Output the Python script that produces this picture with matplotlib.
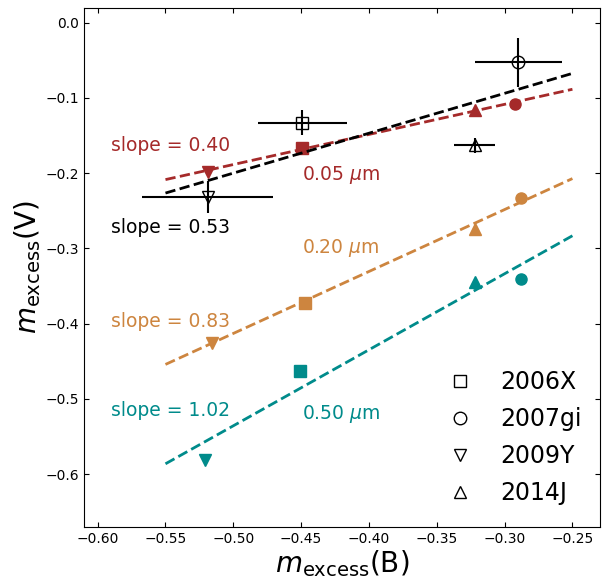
import numpy as np
import matplotlib.pyplot as plt

# supernovae and their markers
names = ['2006X', '2007gi', '2009Y', '2014J']
markers = ['s', 'o', 'v', '^']

# observed colour excess with errors
obs_x = [-0.449, -0.290, -0.519, -0.322]
obs_y = [-0.133, -0.053, -0.232, -0.163]
obs_xerr = [0.033, 0.032, 0.048, 0.015]
obs_yerr = [0.017, 0.033, 0.021, 0.010]
obs_slope, obs_icpt = 0.53, 0.065

# model grain sizes
sizes = ['0.05', '0.20', '0.50']
colors = ['#a52a2a', '#cd853f', '#008b8b']
mod_x = [
    [-0.449, -0.292, -0.519, -0.322],
    [-0.447, -0.288, -0.516, -0.322],
    [-0.451, -0.288, -0.521, -0.322],
]
mod_y = [
    [-0.166, -0.108, -0.198, -0.116],
    [-0.373, -0.233, -0.426, -0.274],
    [-0.463, -0.341, -0.581, -0.345],
]
slopes = [0.40, 0.83, 1.02]
fit_slopes = [0.40, 0.823, 1.01]
intercepts = [0.0114, -0.0015, -0.0307]

slope_text_y = [-0.163, -0.397, -0.516]
size_text_y = [-0.202, -0.300, -0.520]

fig = plt.figure(figsize=(6.05, 5.79), dpi=100)
ax = fig.add_axes([0.139, 0.090, 0.852, 0.897])

xx = np.array([-0.55, -0.25])

for i in range(len(sizes)):
    ax.plot(xx, fit_slopes[i] * xx + intercepts[i], '--', color=colors[i], lw=2)
    for j in range(len(names)):
        ax.plot(mod_x[i][j], mod_y[i][j], markers[j], color=colors[i], ms=8)
    ax.text(-0.5898, slope_text_y[i], f'slope = {slopes[i]:.2f}', color=colors[i],
            fontsize=13.5, va='center')
    ax.text(-0.449, size_text_y[i], sizes[i] + r' $\mu$m', color=colors[i],
            fontsize=13.5, va='center')

ax.plot(xx, obs_slope * xx + obs_icpt, '--', color='black', lw=2)
for j in range(len(names)):
    ax.errorbar(obs_x[j], obs_y[j], xerr=obs_xerr[j], yerr=obs_yerr[j],
                fmt=markers[j], mfc='none', mec='black', ecolor='black',
                ms=9, elinewidth=1.5, label=names[j])
ax.text(-0.5898, -0.2725, 'slope = 0.53', color='black', fontsize=13.5, va='center')

# legend with only the open markers
handles = [plt.Line2D([], [], ls='none', marker=m, mfc='none', mec='black', ms=9)
           for m in markers]
ax.legend(handles, names, loc='lower right', bbox_to_anchor=(1.012, -0.004),
          frameon=False, fontsize=17, handletextpad=0.7, labelspacing=0.55,
          borderaxespad=0.6)

ax.set_xlim(-0.61, -0.23)
ax.set_ylim(-0.67, 0.02)
ax.set_xticks(np.arange(-0.60, -0.24, 0.05))
ax.set_yticks(np.arange(-0.6, 0.01, 0.1))
ax.tick_params(direction='in', top=True, right=True, labelsize=10)
ax.set_xlabel(r'$m_{\rm excess}$(B)', fontsize=20, labelpad=2)
ax.set_ylabel(r'$m_{\rm excess}$(V)', fontsize=20, labelpad=2)

fig.savefig('out.png', dpi=100)
